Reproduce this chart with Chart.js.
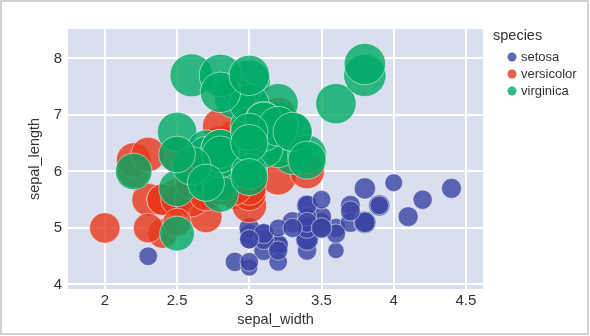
<!DOCTYPE html>
<html>
<head>
<meta charset="utf-8">
<script src="https://cdn.jsdelivr.net/npm/chart.js@4.4.1/dist/chart.umd.min.js"></script>
<style>
  html, body { margin: 0; padding: 0; background: #fff; }
  #wrap { width: 590px; height: 336px; }
</style>
</head>
<body>
<div id="wrap"><canvas id="chart" width="590" height="336"></canvas></div>
<script>
// iris: x = sepal_width, y = sepal_length, bubble size = petal_length
const species = ["setosa", "versicolor", "virginica"];
const speciesColors = ["rgba(58,68,162,0.8)", "rgba(230,55,26,0.8)", "rgba(0,170,100,0.8)"];

const setosaSepalWidth = [
  3.5, 3.0, 3.2, 3.1, 3.6, 3.9, 3.4, 3.4, 2.9, 3.1,
  3.7, 3.4, 3.0, 3.0, 4.0, 4.4, 3.9, 3.5, 3.8, 3.8,
  3.4, 3.7, 3.6, 3.3, 3.4, 3.0, 3.4, 3.5, 3.4, 3.2,
  3.1, 3.4, 4.1, 4.2, 3.1, 3.2, 3.5, 3.6, 3.0, 3.4,
  3.5, 2.3, 3.2, 3.5, 3.8, 3.0, 3.8, 3.2, 3.7, 3.3
];
const setosaSepalLength = [
  5.1, 4.9, 4.7, 4.6, 5.0, 5.4, 4.6, 5.0, 4.4, 4.9,
  5.4, 4.8, 4.8, 4.3, 5.8, 5.7, 5.4, 5.1, 5.7, 5.1,
  5.4, 5.1, 4.6, 5.1, 4.8, 5.0, 5.0, 5.2, 5.2, 4.7,
  4.8, 5.4, 5.2, 5.5, 4.9, 5.0, 5.5, 4.9, 4.4, 5.1,
  5.0, 4.5, 4.4, 5.0, 5.1, 4.8, 5.1, 4.6, 5.3, 5.0
];
const setosaPetalLength = [
  1.4, 1.4, 1.3, 1.5, 1.4, 1.7, 1.4, 1.5, 1.4, 1.5,
  1.5, 1.6, 1.4, 1.1, 1.2, 1.5, 1.3, 1.4, 1.7, 1.5,
  1.7, 1.5, 1.0, 1.7, 1.9, 1.6, 1.6, 1.5, 1.4, 1.6,
  1.6, 1.5, 1.5, 1.4, 1.5, 1.2, 1.3, 1.4, 1.3, 1.5,
  1.3, 1.3, 1.3, 1.6, 1.9, 1.4, 1.6, 1.4, 1.5, 1.4
];

const versicolorSepalWidth = [
  3.2, 3.2, 3.1, 2.3, 2.8, 2.8, 3.3, 2.4, 2.9, 2.7,
  2.0, 3.0, 2.2, 2.9, 2.9, 3.1, 3.0, 2.7, 2.2, 2.5,
  3.2, 2.8, 2.5, 2.8, 2.9, 3.0, 2.8, 3.0, 2.9, 2.6,
  2.4, 2.4, 2.7, 2.7, 3.0, 3.4, 3.1, 2.3, 3.0, 2.5,
  2.6, 3.0, 2.6, 2.3, 2.7, 3.0, 2.9, 2.9, 2.5, 2.8
];
const versicolorSepalLength = [
  7.0, 6.4, 6.9, 5.5, 6.5, 5.7, 6.3, 4.9, 6.6, 5.2,
  5.0, 5.9, 6.0, 6.1, 5.6, 6.7, 5.6, 5.8, 6.2, 5.6,
  5.9, 6.1, 6.3, 6.1, 6.4, 6.6, 6.8, 6.7, 6.0, 5.7,
  5.5, 5.5, 5.8, 6.0, 5.4, 6.0, 6.7, 6.3, 5.6, 5.5,
  5.5, 6.1, 5.8, 5.0, 5.6, 5.7, 5.7, 6.2, 5.1, 5.7
];
const versicolorPetalLength = [
  4.7, 4.5, 4.9, 4.0, 4.6, 4.5, 4.7, 3.3, 4.6, 3.9,
  3.5, 4.2, 4.0, 4.7, 3.6, 4.4, 4.5, 4.1, 4.5, 3.9,
  4.8, 4.0, 4.9, 4.7, 4.3, 4.4, 4.8, 5.0, 4.5, 3.5,
  3.8, 3.7, 3.9, 5.1, 4.5, 4.5, 4.7, 4.4, 4.1, 4.0,
  4.4, 4.6, 4.0, 3.3, 4.2, 4.2, 4.2, 4.3, 3.0, 4.1
];

const virginicaSepalWidth = [
  3.3, 2.7, 3.0, 2.9, 3.0, 3.0, 2.5, 2.9, 2.5, 3.6,
  3.2, 2.7, 3.0, 2.5, 2.8, 3.2, 3.0, 3.8, 2.6, 2.2,
  3.2, 2.8, 2.8, 2.7, 3.3, 3.2, 2.8, 3.0, 2.8, 3.0,
  2.8, 3.8, 2.8, 2.8, 2.6, 3.0, 3.4, 3.1, 3.0, 3.1,
  3.1, 3.1, 2.7, 3.2, 3.3, 3.0, 2.5, 3.0, 3.4, 3.0
];
const virginicaSepalLength = [
  6.3, 5.8, 7.1, 6.3, 6.5, 7.6, 4.9, 7.3, 6.7, 7.2,
  6.5, 6.4, 6.8, 5.7, 5.8, 6.4, 6.5, 7.7, 7.7, 6.0,
  6.9, 5.6, 7.7, 6.3, 6.7, 7.2, 6.2, 6.1, 6.4, 7.2,
  7.4, 7.9, 6.4, 6.3, 6.1, 7.7, 6.3, 6.4, 6.0, 6.9,
  6.7, 6.9, 5.8, 6.8, 6.7, 6.7, 6.3, 6.5, 6.2, 5.9
];
const virginicaPetalLength = [
  6.0, 5.1, 5.9, 5.6, 5.8, 6.6, 4.5, 6.3, 5.8, 6.1,
  5.1, 5.3, 5.5, 5.0, 5.1, 5.3, 5.5, 6.7, 6.9, 5.0,
  5.7, 4.9, 6.7, 4.9, 5.7, 6.0, 4.8, 4.9, 5.6, 5.8,
  6.1, 6.4, 5.6, 5.1, 5.6, 6.1, 5.6, 5.5, 4.8, 5.4,
  5.6, 5.1, 5.1, 5.9, 5.7, 5.2, 5.0, 5.2, 5.4, 5.1
];

const xTicks = [2, 2.5, 3, 3.5, 4, 4.5];
const yTicks = [4, 5, 6, 7, 8];

const sepalWidths = [setosaSepalWidth, versicolorSepalWidth, virginicaSepalWidth];
const sepalLengths = [setosaSepalLength, versicolorSepalLength, virginicaSepalLength];
const petalLengths = [setosaPetalLength, versicolorPetalLength, virginicaPetalLength];

const maxPetal = Math.max(...petalLengths.flat());
const maxRadius = 21.5;
// bubble area proportional to petal length
const bubbleRadius = (ctx) => maxRadius * Math.sqrt(petalLengths[ctx.datasetIndex][ctx.dataIndex] / maxPetal);

const textColor = "#333";
const fontFamily = '"Liberation Sans", Arial, sans-serif';
Chart.defaults.font.family = fontFamily;
Chart.defaults.color = textColor;

const datasets = species.map((name, s) => ({
  label: name,
  data: sepalWidths[s].map((w, i) => ({ x: w, y: sepalLengths[s][i] })),
  backgroundColor: speciesColors[s],
  borderColor: "rgba(255,255,255,0.5)",
  borderWidth: 1,
  pointRadius: bubbleRadius,
  pointHoverRadius: bubbleRadius,
  // later species sit on top
  order: species.length - s
}));

const plotBackground = {
  id: "plotBackground",
  beforeDraw(chart) {
    const { ctx, chartArea: a } = chart;
    ctx.save();
    ctx.fillStyle = "#dadff0";
    ctx.fillRect(a.left, a.top, a.right - a.left, a.bottom - a.top);
    ctx.strokeStyle = "#c4c4c4";
    ctx.lineWidth = 1.5;
    ctx.strokeRect(1, 1, chart.width - 3, chart.height - 3);
    ctx.restore();
  }
};

const speciesLegend = {
  id: "speciesLegend",
  afterDraw(chart) {
    const { ctx } = chart;
    ctx.save();
    ctx.fillStyle = textColor;
    ctx.textBaseline = "middle";
    ctx.textAlign = "left";
    ctx.font = "14.5px " + fontFamily;
    ctx.fillText("species", 493, 36);
    ctx.font = "13px " + fontFamily;
    species.forEach((name, s) => {
      const y = 57 + s * 17;
      ctx.beginPath();
      ctx.arc(512, y, 4.5, 0, Math.PI * 2);
      ctx.fillStyle = speciesColors[s];
      ctx.fill();
      ctx.fillStyle = textColor;
      ctx.fillText(name, 521, y);
    });
    ctx.restore();
  }
};

new Chart(document.getElementById("chart"), {
  type: "scatter",
  data: { datasets },
  options: {
    responsive: false,
    animation: false,
    layout: { padding: { top: 29, right: 107, left: 0, bottom: 0 } },
    plugins: {
      legend: { display: false },
      tooltip: { enabled: false }
    },
    scales: {
      x: {
        type: "linear",
        min: 1.745,
        max: 4.618,
        afterBuildTicks: (scale) => { scale.ticks = xTicks.map((v) => ({ value: v })); },
        afterFit: (scale) => { scale.height = 47; },
        ticks: {
          callback: (v) => String(v),
          font: { size: 15 },
          color: textColor,
          padding: 3,
          maxRotation: 0
        },
        grid: { color: "#fff", lineWidth: 2, drawTicks: false },
        border: { display: false },
        title: {
          display: true,
          text: "sepal_width",
          font: { size: 14.5 },
          color: textColor,
          padding: { top: 0, bottom: 7 }
        }
      },
      y: {
        type: "linear",
        min: 3.92,
        max: 8.52,
        afterBuildTicks: (scale) => { scale.ticks = yTicks.map((v) => ({ value: v })); },
        afterFit: (scale) => { scale.width = 68; },
        ticks: {
          callback: (v) => String(v),
          font: { size: 15 },
          color: textColor,
          padding: 6
        },
        grid: { color: "#fff", lineWidth: 2, drawTicks: false },
        border: { display: false },
        title: {
          display: true,
          text: "sepal_length",
          font: { size: 14.5 },
          color: textColor,
          padding: { top: 26, bottom: 0 }
        }
      }
    }
  },
  plugins: [plotBackground, speciesLegend]
});
</script>
</body>
</html>
